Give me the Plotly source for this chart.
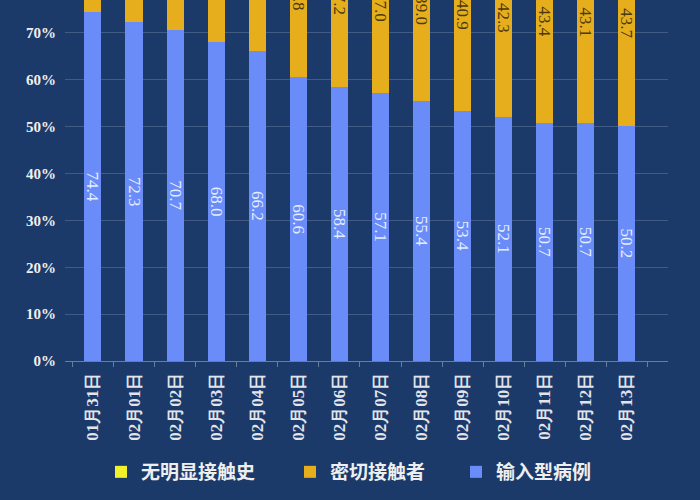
import plotly.graph_objects as go

dates = ["01月31日", "02月01日", "02月02日", "02月03日", "02月04日", "02月05日", "02月06日",
         "02月07日", "02月08日", "02月09日", "02月10日", "02月11日", "02月12日", "02月13日"]
imported = [74.4, 72.3, 70.7, 68.0, 66.2, 60.6, 58.4, 57.1, 55.4, 53.4, 52.1, 50.7, 50.7, 50.2]
close_contact = [21.5, 23.2, 24.8, 27.4, 29.0, 34.8, 37.2, 37.0, 39.0, 40.9, 42.3, 43.4, 43.1, 43.7]
no_contact = [round(100 - a - b, 1) for a, b in zip(imported, close_contact)]

BG = "#1b3a69"
BLUE = "#6a8cf8"
ORANGE = "#e6ae1c"
YELLOW = "#f2f22a"

common = dict(textposition="inside", insidetextanchor="middle", textangle=90,
              constraintext="none", texttemplate="%{y:.1f}", showlegend=True)

fig = go.Figure()
fig.add_trace(go.Bar(x=dates, y=imported, name="输入型病例", marker_color=BLUE,
                     marker_line_width=0, legend="legend3",
                     textfont=dict(family="Liberation Serif", size=17, color="#e4ecff"), **common))
fig.add_trace(go.Bar(x=dates, y=close_contact, name="密切接触者", marker_color=ORANGE,
                     marker_line_width=0, legend="legend2",
                     textfont=dict(family="Liberation Serif", size=17, color="#4a3a10"), **common))
fig.add_trace(go.Bar(x=dates, y=no_contact, name="无明显接触史", marker_color=YELLOW,
                     marker_line_width=0, legend="legend4",
                     textfont=dict(family="Liberation Serif", size=17, color="#333333"), **common))

legfont = dict(family="Noto Sans CJK SC", size=19, color="#eeeeee", weight="bold")
def leg(xpx):
    return dict(orientation="h", xref="container", x=xpx / 700, xanchor="left",
                yref="container", y=0.056, yanchor="middle", bgcolor="rgba(0,0,0,0)",
                font=legfont, itemwidth=30)

fig.update_layout(
    width=700, height=500, showlegend=True,
    barmode="stack", bargap=0.585,
    paper_bgcolor=BG, plot_bgcolor=BG,
    margin=dict(l=65, r=32, t=0, b=139, autoexpand=False),
    font=dict(family="Liberation Serif", color="white"),
    legend4=leg(101), legend2=leg(290), legend3=leg(456),
)
fig.update_xaxes(
    type="category", range=[-0.68, 14.0], tickangle=-90, automargin=False,
    tickfont=dict(family="Liberation Serif", size=17, color="#e2e4ea", weight="bold"),
    showline=True, linecolor="rgba(200,210,230,0.45)", linewidth=1,
    ticks="outside", tickson="boundaries", ticklen=5, tickcolor="rgba(200,210,230,0.45)",
    showgrid=False, ticklabelstandoff=4,
)
fig.update_yaxes(
    range=[0, 77.04], dtick=10, ticksuffix="%", automargin=False,
    tickfont=dict(family="Liberation Serif", size=15, color="#f0f0f0", weight="bold"),
    showgrid=True, gridcolor="rgba(200,210,230,0.22)", gridwidth=1,
    zeroline=False, ticklabelstandoff=8,
)

fig.write_html("out.html", config={"displayModeBar": False},
               post_script="document.body.style.margin='0';document.body.style.background='%s';" % BG)
